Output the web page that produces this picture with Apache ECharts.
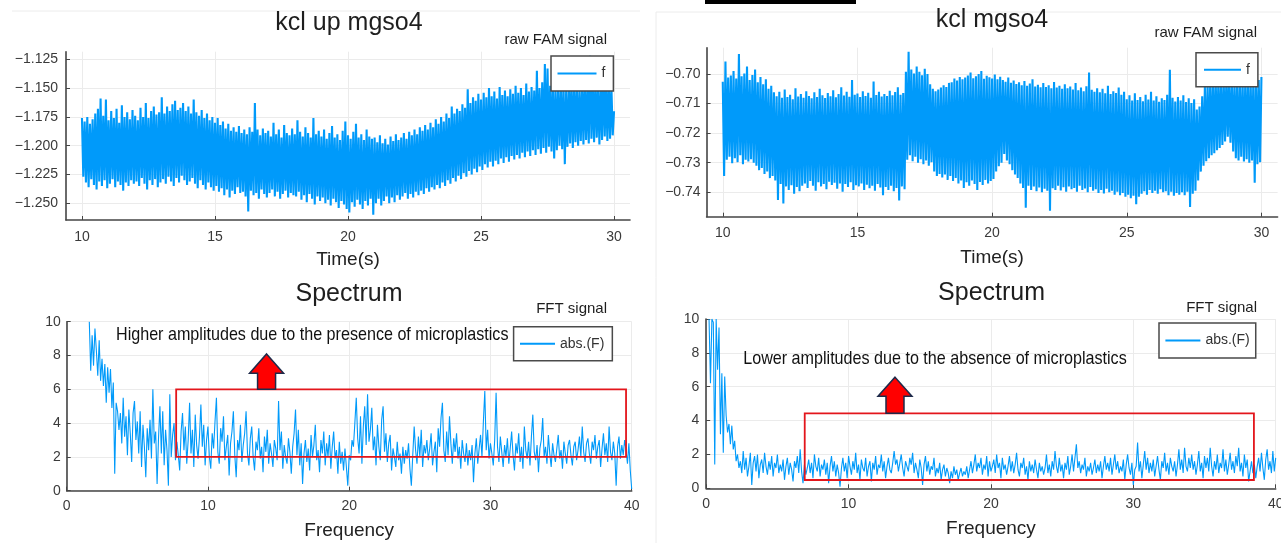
<!DOCTYPE html>
<html>
<head>
<meta charset="utf-8">
<script src="https://cdn.jsdelivr.net/npm/echarts@6/dist/echarts.min.js"></script>
<style>
  html, body { margin: 0; padding: 0; background: #ffffff; }
  #chart { width: 1281px; height: 543px; }
</style>
</head>
<body>
<div id="chart"></div>
<script>
// ---------- raw FAM signal, "kcl up mgso4" (peaks every 0.1 s from 10 s, troughs in between) ----------
const rawStart = 10;
const rawStep = 0.1;
const kclUpPeaks = [
  -1.176, -1.179, -1.175, -1.181, -1.177, -1.172, -1.168, -1.159, -1.174, -1.160,
  -1.178, -1.170, -1.176, -1.168, -1.180, -1.165, -1.175, -1.171, -1.177, -1.169,
  -1.174, -1.178, -1.167, -1.175, -1.163, -1.176, -1.170, -1.166, -1.173, -1.171,
  -1.158, -1.172, -1.166, -1.170, -1.164, -1.161, -1.169, -1.167, -1.163, -1.170,
  -1.166, -1.172, -1.160, -1.171, -1.174, -1.169, -1.176, -1.172, -1.178, -1.175,
  -1.180, -1.176, -1.182, -1.179, -1.185, -1.181, -1.187, -1.184, -1.188, -1.183,
  -1.189, -1.186, -1.190, -1.184, -1.188, -1.163, -1.186, -1.191, -1.185, -1.189,
  -1.187, -1.192, -1.180, -1.190, -1.186, -1.193, -1.182, -1.189, -1.191, -1.185,
  -1.190, -1.178, -1.188, -1.192, -1.184, -1.189, -1.193, -1.176, -1.190, -1.187,
  -1.192, -1.186, -1.194, -1.189, -1.183, -1.193, -1.190, -1.195, -1.187, -1.179,
  -1.191, -1.194, -1.188, -1.181, -1.193, -1.190, -1.195, -1.186, -1.192, -1.194,
  -1.193, -1.197, -1.191, -1.198, -1.194, -1.199, -1.192, -1.196, -1.190, -1.195,
  -1.193, -1.189, -1.194, -1.188, -1.191, -1.186, -1.190, -1.184, -1.187, -1.182,
  -1.186, -1.180, -1.184, -1.177, -1.181, -1.175, -1.179, -1.172, -1.176, -1.166,
  -1.172, -1.168, -1.170, -1.164, -1.167, -1.151, -1.163, -1.158, -1.161, -1.155,
  -1.160, -1.154, -1.158, -1.150, -1.157, -1.153, -1.159, -1.149, -1.156, -1.152,
  -1.157, -1.151, -1.155, -1.148, -1.154, -1.150, -1.156, -1.146, -1.153, -1.149,
  -1.152, -1.135, -1.150, -1.145, -1.129, -1.133, -1.148, -1.143, -1.151, -1.146,
  -1.150, -1.144, -1.152, -1.147, -1.142, -1.149, -1.145, -1.151, -1.146, -1.143,
  -1.148, -1.122, -1.147, -1.141, -1.149, -1.144, -1.138, -1.146, -1.143, -1.148,
  -1.170
];
const kclUpTroughs = [
  -1.227, -1.232, -1.236, -1.229, -1.234, -1.238, -1.231, -1.235, -1.230, -1.237,
  -1.233, -1.229, -1.236, -1.231, -1.234, -1.239, -1.232, -1.235, -1.230, -1.233,
  -1.231, -1.235, -1.228, -1.233, -1.238, -1.230, -1.234, -1.229, -1.236, -1.232,
  -1.229, -1.233, -1.227, -1.231, -1.235, -1.228, -1.232, -1.226, -1.230, -1.234,
  -1.231, -1.228, -1.233, -1.237, -1.230, -1.234, -1.238, -1.232, -1.236, -1.239,
  -1.235, -1.240, -1.237, -1.243, -1.238, -1.245, -1.239, -1.242, -1.236, -1.241,
  -1.240, -1.244, -1.257, -1.239, -1.243, -1.241, -1.246, -1.238, -1.242, -1.245,
  -1.241, -1.238, -1.244, -1.240, -1.246, -1.242, -1.239, -1.245, -1.241, -1.243,
  -1.244, -1.240, -1.247, -1.243, -1.249, -1.242, -1.246, -1.251, -1.244, -1.248,
  -1.245, -1.250, -1.247, -1.252, -1.246, -1.249, -1.254, -1.248, -1.251, -1.255,
  -1.258, -1.249, -1.253, -1.247, -1.251, -1.255, -1.248, -1.252, -1.246, -1.260,
  -1.250, -1.246, -1.252, -1.248, -1.244, -1.250, -1.245, -1.249, -1.243, -1.247,
  -1.244, -1.241, -1.246, -1.242, -1.245, -1.240, -1.243, -1.239, -1.242, -1.237,
  -1.240, -1.236, -1.238, -1.234, -1.237, -1.232, -1.235, -1.230, -1.233, -1.228,
  -1.231, -1.226, -1.229, -1.224, -1.227, -1.222, -1.225, -1.220, -1.223, -1.218,
  -1.221, -1.216, -1.219, -1.214, -1.218, -1.213, -1.216, -1.211, -1.215, -1.210,
  -1.214, -1.209, -1.212, -1.208, -1.211, -1.206, -1.210, -1.205, -1.209, -1.204,
  -1.208, -1.203, -1.207, -1.202, -1.206, -1.201, -1.205, -1.211, -1.204, -1.200,
  -1.203, -1.216, -1.201, -1.198, -1.202, -1.197, -1.200, -1.196, -1.199, -1.195,
  -1.198, -1.194, -1.197, -1.193, -1.199, -1.195, -1.192, -1.196, -1.194, -1.191
];

// ---------- raw FAM signal, "kcl mgso4" ----------
const kclPeaks = [
  -0.7026, -0.6958, -0.7012, -0.7005, -0.6990, -0.7015, -0.6932, -0.7008, -0.6998, -0.6975,
  -0.7020, -0.7003, -0.6985, -0.7028, -0.7010, -0.7035, -0.7018, -0.7050, -0.7040, -0.7062,
  -0.7075, -0.7060, -0.7080, -0.7052, -0.7078, -0.7070, -0.7085, -0.7048, -0.7076, -0.7068,
  -0.7080, -0.7058, -0.7074, -0.7082, -0.7062, -0.7078, -0.7050, -0.7072, -0.7081, -0.7064,
  -0.7075, -0.7055, -0.7079, -0.7068, -0.7045, -0.7073, -0.7060, -0.7077, -0.7020, -0.7070,
  -0.7066, -0.7078, -0.7058, -0.7074, -0.7063, -0.7080, -0.7025, -0.7071, -0.7060, -0.7076,
  -0.7068, -0.7074, -0.7057, -0.7072, -0.7061, -0.7045, -0.7070, -0.7064, -0.6992, -0.6925,
  -0.6985, -0.6998, -0.6975, -0.6992, -0.7004, -0.6982, -0.7000, -0.7035, -0.7050, -0.7058,
  -0.7052, -0.7046, -0.7038, -0.7044, -0.7030, -0.7028, -0.7015, -0.7022, -0.7010, -0.7018,
  -0.7012, -0.7005, -0.6995, -0.7014, -0.7008, -0.7000, -0.6990, -0.7016, -0.7006, -0.7011,
  -0.7015, -0.7002, -0.7018, -0.7009, -0.7020, -0.7026, -0.7012, -0.7030, -0.7022, -0.7034,
  -0.7028, -0.7038, -0.7024, -0.7040, -0.7032, -0.7018, -0.7042, -0.7036, -0.7045, -0.7030,
  -0.7044, -0.7038, -0.7048, -0.7027, -0.7046, -0.7040, -0.7050, -0.7035, -0.7048, -0.7042,
  -0.7052, -0.7030, -0.7055, -0.7046, -0.7058, -0.7041, -0.6995, -0.7053, -0.7060, -0.7048,
  -0.7062, -0.7050, -0.7065, -0.7040, -0.7068, -0.7058, -0.7064, -0.7046, -0.7070, -0.7060,
  -0.7085, -0.7072, -0.7090, -0.7065, -0.7088, -0.7078, -0.7092, -0.7070, -0.7086, -0.7060,
  -0.7090, -0.7075, -0.7094, -0.7082, -0.7088, -0.7070, -0.6986, -0.7080, -0.7093, -0.7078,
  -0.7090, -0.7072, -0.7095, -0.7082, -0.7098, -0.7085, -0.7120, -0.7110, -0.7075, -0.7040,
  -0.7030, -0.7015, -0.7026, -0.7008, -0.7024, -0.7012, -0.7028, -0.7005, -0.7022, -0.7018,
  -0.7025, -0.7010, -0.7028, -0.7014, -0.7022, -0.7006, -0.7024, -0.7016, -0.7008, -0.7020,
  -0.7010
];
const kclTroughs = [
  -0.7345, -0.7290, -0.7280, -0.7302, -0.7285, -0.7298, -0.7275, -0.7305, -0.7290, -0.7296,
  -0.7288, -0.7300, -0.7310, -0.7325, -0.7318, -0.7338, -0.7330, -0.7352, -0.7345, -0.7360,
  -0.7426, -0.7372, -0.7438, -0.7380, -0.7392, -0.7376, -0.7405, -0.7382, -0.7396, -0.7378,
  -0.7370, -0.7385, -0.7362, -0.7378, -0.7395, -0.7366, -0.7380, -0.7372, -0.7390, -0.7364,
  -0.7375, -0.7368, -0.7388, -0.7370, -0.7398, -0.7372, -0.7382, -0.7366, -0.7392, -0.7376,
  -0.7380, -0.7370, -0.7392, -0.7374, -0.7386, -0.7378, -0.7395, -0.7372, -0.7384, -0.7410,
  -0.7382, -0.7392, -0.7378, -0.7396, -0.7385, -0.7428, -0.7380, -0.7390, -0.7290, -0.7275,
  -0.7295, -0.7280, -0.7300, -0.7288, -0.7305, -0.7292, -0.7310, -0.7298, -0.7330, -0.7345,
  -0.7338, -0.7350, -0.7340, -0.7358, -0.7345, -0.7362, -0.7352, -0.7370, -0.7360, -0.7385,
  -0.7366, -0.7378, -0.7360, -0.7372, -0.7392, -0.7365, -0.7375, -0.7358, -0.7370, -0.7362,
  -0.7355, -0.7330, -0.7312, -0.7300, -0.7270, -0.7292, -0.7305, -0.7325, -0.7340, -0.7352,
  -0.7370, -0.7385, -0.7452, -0.7378, -0.7392, -0.7380, -0.7396, -0.7384, -0.7400, -0.7388,
  -0.7395, -0.7462, -0.7386, -0.7392, -0.7378, -0.7394, -0.7383, -0.7398, -0.7380, -0.7390,
  -0.7385, -0.7398, -0.7378, -0.7392, -0.7387, -0.7400, -0.7382, -0.7395, -0.7390, -0.7402,
  -0.7392, -0.7404, -0.7388, -0.7400, -0.7395, -0.7408, -0.7398, -0.7410, -0.7402, -0.7415,
  -0.7408, -0.7420, -0.7412, -0.7440, -0.7415, -0.7405, -0.7396, -0.7408, -0.7392, -0.7402,
  -0.7395, -0.7405, -0.7390, -0.7400, -0.7396, -0.7410, -0.7398, -0.7412, -0.7402, -0.7408,
  -0.7400, -0.7410, -0.7398, -0.7450, -0.7405, -0.7395, -0.7360, -0.7330, -0.7310, -0.7295,
  -0.7285, -0.7275, -0.7268, -0.7258, -0.7250, -0.7240, -0.7228, -0.7212, -0.7232, -0.7262,
  -0.7285, -0.7292, -0.7280, -0.7296, -0.7288, -0.7300, -0.7292, -0.7368, -0.7305, -0.7298
];

// ---------- spectra |F| ----------
const fftStep = 0.1;
const fftUpStart = 1.6;
const fftUp = [
  10.0, 7.1, 9.2, 7.4, 9.6, 8.3, 6.8, 8.9, 6.5, 7.8,
  6.2, 7.5, 5.2, 7.3, 5.8, 7.2, 4.9, 6.4, 1.0, 5.2,
  4.7, 3.6, 4.6, 2.8, 5.5, 3.2, 4.4, 2.1, 4.8, 3.4,
  1.7, 4.6, 5.3, 3.0, 4.1, 2.2, 4.7, 1.4, 3.9, 2.6,
  0.8, 3.7, 2.4, 4.2, 1.9, 6.0, 2.8, 3.5, 0.4, 3.1,
  5.0, 2.2, 4.7, 1.5, 3.6, 2.4, 0.3, 5.7, 2.0, 3.3,
  4.0, 1.8, 2.9, 2.1, 1.2, 3.5, 4.6, 2.4, 3.8, 1.6,
  3.0, 5.2, 2.2, 3.6, 1.4, 4.5, 2.7, 1.9, 3.2, 5.1,
  2.6, 3.9, 1.5, 3.0, 3.8, 2.0, 1.3, 3.4, 2.5, 4.1,
  5.5, 2.3, 1.6, 3.7, 2.9, 4.4, 1.8, 2.6, 3.3, 0.9,
  2.8, 3.5, 4.7, 2.1, 0.8, 3.0, 2.4, 3.9, 1.7, 2.7,
  3.4, 4.7, 2.2, 1.5, 3.1, 3.8, 2.0, 1.2, 2.9, 2.4,
  3.7, 1.9, 2.6, 1.1, 3.2, 2.3, 3.6, 1.6, 2.8, 2.2,
  1.4, 3.0, 2.5, 1.8, 5.3, 2.4, 3.5, 1.3, 2.7, 2.0,
  1.6, 3.1, 2.3, 1.0, 2.6, 3.4, 4.8, 2.1, 3.6, 1.5,
  2.8, 0.4, 2.2, 3.0, 1.7, 2.5, 1.2, 3.3, 2.0, 2.7,
  3.9, 1.8, 2.4, 1.1, 3.0, 2.2, 3.5, 1.5, 2.8, 2.0,
  3.3, 1.3, 2.6, 3.5, 1.9, 2.4, 1.0, 2.9, 1.6, 2.3,
  1.2, 2.5, 1.4, 0.3, 2.1, 1.8, 3.0, 2.6, 4.0, 5.5,
  3.1, 2.2, 4.4, 1.6, 3.8, 5.0, 2.7, 5.7, 2.9, 3.6,
  4.9, 2.4, 3.2, 1.5, 3.9, 2.6, 1.8, 4.2, 5.0, 2.3,
  3.4, 1.7, 2.8, 3.3, 1.2, 2.5, 2.0, 1.4, 2.9, 1.8,
  2.2, 1.0, 2.6, 1.6, 2.4, 1.9, 2.8, 1.3, 0.3, 2.1,
  3.8, 2.4, 1.6, 3.2, 2.0, 3.6, 1.4, 2.7, 2.2, 3.0,
  1.8, 2.5, 3.4, 1.5, 2.3, 2.9, 1.1, 3.7, 2.6, 4.3,
  5.2, 2.4, 1.7, 3.5, 2.1, 4.4, 2.8, 1.6, 3.1, 2.3,
  3.4, 1.9, 2.6, 1.3, 3.0, 2.2, 1.7, 2.8, 1.5, 2.4,
  1.8, 2.7, 0.5, 2.2, 3.1, 1.6, 2.5, 3.3, 2.0, 4.1,
  5.9, 2.4, 3.6, 1.9, 2.8, 2.2, 1.5, 3.0, 5.8, 2.6,
  1.7, 3.2, 2.3, 1.4, 2.7, 2.0, 3.1, 1.6, 2.5, 3.5,
  2.1, 1.2, 2.8, 2.2, 3.4, 1.7, 2.6, 1.3, 3.8, 2.4,
  1.9, 2.9, 1.5, 3.2, 4.5, 2.3, 1.8, 2.7, 1.1, 2.5,
  3.0, 4.3, 2.0, 2.6, 1.6, 3.3, 2.2, 1.4, 2.8, 2.1,
  1.7, 2.5, 3.3, 1.9, 2.4, 1.3, 2.9, 2.2, 1.6, 2.7,
  3.0, 2.1, 1.5, 2.6, 2.9, 1.8, 2.4, 3.2, 2.0, 3.8,
  2.3, 1.7, 2.8, 3.1, 2.2, 1.6, 2.9, 2.4, 3.3, 1.9,
  2.6, 3.0, 1.4, 2.5, 3.4, 2.1, 2.8, 1.7, 3.8, 2.3,
  1.8, 2.9, 2.2, 0.3, 2.6, 3.2, 1.9, 2.7, 2.1, 3.0,
  2.4, 1.6, 2.8, 1.2, 0.1
];
const fftKclStart = 0.2;
const fftKcl = [
  10.0, 6.2, 10.0, 9.8, 1.4, 10.0, 7.0, 9.5, 3.2, 6.8,
  2.1, 6.6, 4.3, 3.3, 3.8, 2.6, 3.7, 2.3, 2.8, 1.6,
  2.0, 1.2, 1.6, 0.9, 2.2, 1.1, 1.8, 0.7, 1.3, 2.1,
  0.2, 1.5, 1.9, 1.0, 2.0, 0.6, 1.4, 1.7, 0.9, 2.1,
  1.3, 0.8, 1.6, 1.1, 1.9, 0.7, 1.5, 1.2, 2.0, 0.9,
  1.4, 1.0, 1.7, 0.5, 1.3, 1.8, 0.8, 1.5, 1.1, 0.4,
  1.6, 1.2, 1.9, 0.9, 2.3, 1.0, 0.3, 1.4, 0.8, 1.2,
  1.7, 0.9, 1.5, 0.6, 2.0, 1.3, 1.0, 1.8, 0.7, 1.4,
  1.1, 1.7, 0.8, 1.5, 0.3, 1.3, 1.9, 1.0, 1.6, 0.7,
  1.4, 0.9, 0.1, 1.2, 1.8, 1.0, 1.5, 0.6, 1.9, 1.3,
  0.8, 1.6, 1.1, 2.1, 0.9, 1.4, 0.5, 1.7, 1.2, 1.0,
  1.8, 0.7, 1.3, 1.6, 0.4, 1.5, 1.1, 1.9, 0.8, 1.4,
  1.2, 2.0, 1.0, 1.6, 0.6, 1.3, 1.8, 1.1, 0.9, 1.5,
  2.2, 1.4, 1.7, 1.0, 1.5, 2.0, 1.2, 0.7, 1.6, 1.3,
  1.0, 1.8, 1.4, 2.1, 0.9, 1.5, 1.1, 0.6, 1.7, 1.2,
  0.2, 1.4, 1.9, 1.0, 1.6, 0.8, 1.3, 1.1, 1.8, 0.7,
  1.2, 0.9, 1.5, 0.5, 1.1, 1.4, 0.7, 1.2, 0.9, 0.3,
  1.0, 0.6, 1.3, 0.8, 1.1, 0.5, 0.9, 1.2, 0.7, 1.0,
  0.8, 1.3, 0.6, 1.1, 1.6, 0.9, 1.4, 2.0, 1.0, 1.5,
  1.2, 1.8, 0.8, 1.4, 1.1, 1.9, 0.7, 1.6, 1.0, 1.3,
  1.7, 0.9, 2.0, 1.2, 1.5, 0.6, 1.8, 1.1, 1.4, 0.8,
  1.3, 1.9, 1.0, 1.6, 0.9, 1.4, 2.1, 1.1, 0.7, 1.5,
  1.2, 1.8, 0.8, 1.3, 0.5, 1.6, 1.0, 1.4, 0.9, 1.7,
  1.1, 0.6, 1.5, 1.0, 1.3, 0.8, 1.2, 2.0, 0.9, 1.4,
  0.7, 1.6, 1.1, 2.2, 1.3, 0.9, 1.8, 1.0, 1.4, 0.6,
  1.5, 1.1, 1.9, 0.8, 1.3, 2.0, 1.0, 0.9, 2.6, 1.2,
  1.6, 0.9, 1.4, 1.1, 1.8, 0.7, 1.3, 1.0, 1.5, 0.8,
  1.2, 1.7, 0.9, 1.4, 1.0, 1.6, 0.6, 1.3, 1.9, 1.1,
  1.5, 1.0, 1.8, 0.8, 1.4, 2.0, 1.1, 1.6, 0.9, 1.3,
  1.0, 1.7, 0.5, 1.4, 2.0, 1.2, 0.8, 1.5, 0.2, 1.1,
  1.3, 2.7, 1.0, 1.6, 0.6, 1.4, 2.2, 1.1, 1.8, 0.9,
  1.5, 1.0, 1.7, 0.7, 1.3, 1.9, 1.1, 0.5, 1.6, 1.2,
  2.1, 1.0, 1.5, 0.8, 1.8, 1.3, 1.0, 1.6, 0.7, 1.4,
  2.3, 1.1, 1.7, 0.9, 2.4, 1.3, 1.0, 1.8, 1.2, 2.0,
  1.1, 1.6, 0.8, 1.4, 2.2, 1.0, 1.5, 0.6, 1.9, 1.2,
  1.8, 1.0, 2.4, 1.3, 0.7, 1.6, 1.1, 2.0, 0.9, 1.5,
  1.2, 2.3, 1.0, 1.7, 0.8, 1.4, 2.1, 1.1, 1.6, 0.9,
  1.9, 1.3, 2.4, 1.0, 1.5, 0.7, 2.0, 1.2, 1.7, 0.4,
  1.0, 1.6, 0.9, 1.4, 0.6, 1.3, 1.8, 1.0, 2.1, 1.2,
  0.5, 1.7, 2.3, 1.1, 1.6, 0.9, 2.2, 1.0, 1.8
];

// ---------- axis ticks ----------
const timeTicks = [10, 15, 20, 25, 30];
const kclUpTicks = [-1.250, -1.225, -1.200, -1.175, -1.150, -1.125];
const kclTicks = [-0.74, -0.73, -0.72, -0.71, -0.70];

// ---------- callouts: [x0, y0, x1, y1] boxes, [x, tipY, neckY, footY] arrows, [x, y] notes ----------
const boxUp = [7.75, 2.0, 39.6, 6.0];
const boxKcl = [6.92, 0.49, 38.47, 4.43];
const arrowUp = [14.15, 8.09, 6.95, 6.0];
const arrowKcl = [13.26, 6.56, 5.44, 4.43];
const noteUp = [3.49, 9.2];
const noteKcl = [2.6, 7.66];
const noteUpText = 'Higher amplitudes due to the presence of microplastics';
const noteKclText = 'Lower amplitudes due to the absence of microplastics';

// ---------- building series data ----------
function trace(start, step, peaks, troughs) {
  const out = [];
  for (let i = 0; i < peaks.length; i++) {
    out.push([start + i * step, peaks[i]]);
    if (i < troughs.length) out.push([start + i * step + step / 2, troughs[i]]);
  }
  return out;
}
function spectrum(start, step, vals) {
  return vals.map((v, i) => [Math.round((start + i * step) * 100) / 100, v]);
}

const FONT = '"Liberation Sans", Arial, Helvetica, sans-serif';
const BLUE = '#009AFA';
const AXIS = '#454545';
const GRIDC = '#ebebeb';
const minus = s => s.replace('-', '\u2212');

function xAxisCfg(idx, min, max, opts) {
  return Object.assign({
    type: 'value', gridIndex: idx, min: min, max: max,
    axisLine: { show: true, onZero: false, lineStyle: { color: AXIS, width: 1.6 } },
    axisTick: { show: true, inside: true, length: 4, lineStyle: { color: AXIS, width: 1 } },
    splitLine: { show: true, lineStyle: { color: GRIDC, width: 1 } },
    nameLocation: 'middle',
    nameTextStyle: { fontFamily: FONT, fontSize: 19, color: '#222' }
  }, opts);
}
function yAxisCfg(idx, min, max, opts) {
  return Object.assign({
    type: 'value', gridIndex: idx, min: min, max: max,
    axisLine: { show: true, onZero: false, lineStyle: { color: AXIS, width: 1.6 } },
    axisTick: { show: true, inside: true, length: 4, lineStyle: { color: AXIS, width: 1 } },
    splitLine: { show: true, lineStyle: { color: GRIDC, width: 1 } }
  }, opts);
}
const labelStyle = (margin) => ({ fontFamily: FONT, fontSize: 14, color: '#3a3a3a', margin: margin, hideOverlap: false });

function renderBox(params, api) {
  const a = api.coord([api.value(0), api.value(3)]);
  const b = api.coord([api.value(2), api.value(1)]);
  return {
    type: 'rect', z2: 5,
    shape: { x: a[0], y: a[1], width: b[0] - a[0], height: b[1] - a[1] },
    style: { fill: 'none', stroke: '#e3161c', lineWidth: 1.8 }
  };
}
function renderArrow(params, api) {
  const tip = api.coord([api.value(0), api.value(1)]);
  const neck = api.coord([api.value(0), api.value(2)]);
  const foot = api.coord([api.value(0), api.value(3)]);
  const hw = 17, sw = 9, x = tip[0];
  return {
    type: 'polygon', z2: 6,
    shape: { points: [[x, tip[1]], [x + hw, neck[1]], [x + sw, neck[1]], [x + sw, foot[1]],
                      [x - sw, foot[1]], [x - sw, neck[1]], [x - hw, neck[1]]] },
    style: { fill: '#ff0000', stroke: '#1d2a4a', lineWidth: 1.5 }
  };
}
function noteRenderer(text) {
  return function (params, api) {
    const p = api.coord([api.value(0), api.value(1)]);
    return {
      type: 'text', x: p[0], y: p[1], scaleX: 0.867, z2: 6,
      style: { text: text, fill: '#111', fontFamily: FONT, fontSize: 18.6, align: 'left', verticalAlign: 'middle' }
    };
  };
}

function legendCfg(name, left, top, itemWidth, padding) {
  return {
    data: [{ name: name, icon: 'rect' }], left: left, top: top, orient: 'horizontal',
    itemWidth: itemWidth, itemHeight: 2, padding: padding, selectedMode: false,
    backgroundColor: '#ffffff', borderColor: '#4a4a4a', borderWidth: 1.5, borderRadius: 0,
    textStyle: { fontFamily: FONT, fontSize: 14, color: '#333' }
  };
}

const textEl = (text, x, y, size, align) => ({
  type: 'text', x: x, y: y, z: 10,
  style: { text: text, fill: '#1e1e1e', fontFamily: FONT, fontSize: size, align: align, verticalAlign: 'middle' }
});

const rawLine = { color: BLUE, width: 2.1, join: 'bevel' };

const chart = echarts.init(document.getElementById('chart'), null, { renderer: 'canvas' });
chart.setOption({
  animation: false,
  backgroundColor: '#ffffff',
  grid: [
    { left: 66, top: 51.7, width: 564, height: 168.3, outerBoundsMode: 'none' },
    { left: 706.6, top: 47.7, width: 571, height: 169, outerBoundsMode: 'none' },
    { left: 66.7, top: 321.7, width: 565, height: 169, outerBoundsMode: 'none' },
    { left: 706.2, top: 319, width: 569.5, height: 169.3, outerBoundsMode: 'none' }
  ],
  xAxis: [
    xAxisCfg(0, 9.4, 30.6, { name: 'Time(s)', nameGap: 30.6,
      axisTick: { show: true, inside: true, length: 4, customValues: timeTicks, lineStyle: { color: AXIS } },
      axisLabel: Object.assign(labelStyle(10), { customValues: timeTicks }) }),
    xAxisCfg(1, 9.4, 30.6, { name: 'Time(s)', nameGap: 32,
      axisTick: { show: true, inside: true, length: 4, customValues: timeTicks, lineStyle: { color: AXIS } },
      axisLabel: Object.assign(labelStyle(9), { customValues: timeTicks }) }),
    xAxisCfg(2, 0, 40, { name: 'Frequency', nameGap: 31, interval: 10, axisLabel: labelStyle(8) }),
    xAxisCfg(3, 0, 40, { name: 'Frequency', nameGap: 30.6, interval: 10, axisLabel: labelStyle(9) })
  ],
  yAxis: [
    yAxisCfg(0, -1.2645, -1.1184, {
      axisTick: { show: true, inside: true, length: 4, customValues: kclUpTicks, lineStyle: { color: AXIS } },
      axisLabel: Object.assign(labelStyle(8), { customValues: kclUpTicks, formatter: v => minus(v.toFixed(3)) }) }),
    yAxisCfg(1, -0.74825, -0.6911, {
      axisTick: { show: true, inside: true, length: 4, customValues: kclTicks, lineStyle: { color: AXIS } },
      axisLabel: Object.assign(labelStyle(6), { customValues: kclTicks, formatter: v => minus(v.toFixed(2)) }) }),
    yAxisCfg(2, 0, 10, { interval: 2, axisLabel: labelStyle(6) }),
    yAxisCfg(3, 0, 10, { interval: 2, axisLabel: labelStyle(7) })
  ],
  legend: [
    legendCfg('f', 551, 56, 39, [10.5, 8, 10.5, 6.5]),
    legendCfg('f', 1196, 52.7, 37, [10, 8, 10, 8]),
    legendCfg('abs.(F)', 513.6, 326.7, 35, [10, 8, 10, 6.4]),
    legendCfg('abs.(F)', 1159, 323, 35, [10.5, 6, 10.5, 6.4])
  ],
  series: [
    { name: 'f', type: 'line', xAxisIndex: 0, yAxisIndex: 0, data: trace(rawStart, rawStep, kclUpPeaks, kclUpTroughs),
      showSymbol: false, symbol: 'none', color: BLUE, lineStyle: rawLine, clip: true, z: 2 },
    { name: 'f', type: 'line', xAxisIndex: 1, yAxisIndex: 1, data: trace(rawStart, rawStep, kclPeaks, kclTroughs),
      showSymbol: false, symbol: 'none', color: BLUE, lineStyle: rawLine, clip: true, z: 2 },
    { name: 'abs.(F)', type: 'line', xAxisIndex: 2, yAxisIndex: 2, data: spectrum(fftUpStart, fftStep, fftUp),
      showSymbol: false, symbol: 'none', color: BLUE, lineStyle: { color: BLUE, width: 1.1 }, clip: true, z: 2 },
    { name: 'abs.(F)', type: 'line', xAxisIndex: 3, yAxisIndex: 3, data: spectrum(fftKclStart, fftStep, fftKcl),
      showSymbol: false, symbol: 'none', color: BLUE, lineStyle: { color: BLUE, width: 1.1 }, clip: true, z: 2 },
    { name: 'box-up', type: 'custom', xAxisIndex: 2, yAxisIndex: 2, data: [boxUp], renderItem: renderBox, z: 3, silent: true },
    { name: 'box-kcl', type: 'custom', xAxisIndex: 3, yAxisIndex: 3, data: [boxKcl], renderItem: renderBox, z: 3, silent: true },
    { name: 'arrow-up', type: 'custom', xAxisIndex: 2, yAxisIndex: 2, data: [arrowUp], renderItem: renderArrow, z: 4, silent: true },
    { name: 'arrow-kcl', type: 'custom', xAxisIndex: 3, yAxisIndex: 3, data: [arrowKcl], renderItem: renderArrow, z: 4, silent: true },
    { name: 'note-up', type: 'custom', xAxisIndex: 2, yAxisIndex: 2, data: [noteUp], renderItem: noteRenderer(noteUpText), z: 4, silent: true },
    { name: 'note-kcl', type: 'custom', xAxisIndex: 3, yAxisIndex: 3, data: [noteKcl], renderItem: noteRenderer(noteKclText), z: 4, silent: true }
  ],
  graphic: [
    // page edges and the black strip at the top of the right half
    { type: 'line', shape: { x1: 12, y1: 11, x2: 640, y2: 11 }, style: { stroke: '#ececec', lineWidth: 1 } },
    { type: 'line', shape: { x1: 656, y1: 12, x2: 1281, y2: 12 }, style: { stroke: '#ececec', lineWidth: 1 } },
    { type: 'line', shape: { x1: 656, y1: 12, x2: 656, y2: 543 }, style: { stroke: '#ececec', lineWidth: 1 } },
    { type: 'rect', shape: { x: 705, y: 0, width: 151, height: 4 }, style: { fill: '#000000' } },
    // panel titles
    textEl('kcl up mgso4', 349, 23.6, 25, 'center'),
    textEl('kcl mgso4', 992, 20.6, 25, 'center'),
    textEl('Spectrum', 349, 294.6, 25, 'center'),
    textEl('Spectrum', 991.6, 293, 25, 'center'),
    // legend titles
    textEl('raw FAM signal', 607, 39.8, 15, 'right'),
    textEl('raw FAM signal', 1257, 32.5, 15, 'right'),
    textEl('FFT signal', 607, 309.1, 15, 'right'),
    textEl('FFT signal', 1257, 308.1, 15, 'right')
  ]
});
</script>
</body>
</html>
